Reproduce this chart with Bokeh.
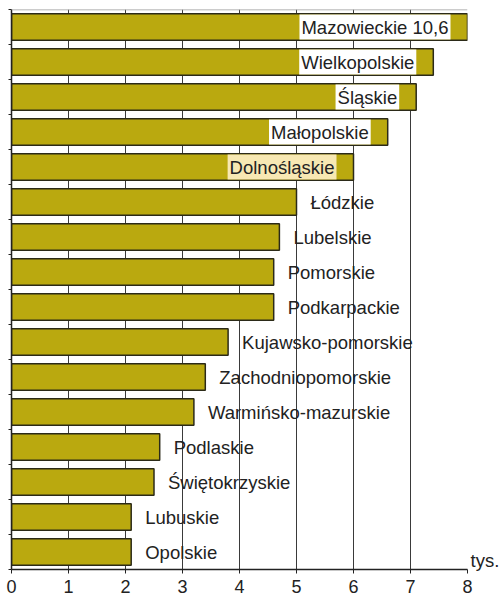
from bokeh.plotting import figure
from bokeh.models import ColumnDataSource, Range1d, FixedTicker, Span, LinearAxis
from bokeh.core.properties import value
from bokeh.embed import file_html
from bokeh.resources import INLINE

regions = ["Mazowieckie", "Wielkopolskie", "Śląskie", "Małopolskie", "Dolnośląskie",
           "Łódzkie", "Lubelskie", "Pomorskie", "Podkarpackie", "Kujawsko-pomorskie",
           "Zachodniopomorskie", "Warmińsko-mazurskie", "Podlaskie", "Świętokrzyskie",
           "Lubuskie", "Opolskie"]
values = [10.6, 7.4, 7.1, 6.6, 6.0, 5.0, 4.7, 4.6, 4.6, 3.8, 3.4, 3.2, 2.6, 2.5, 2.1, 2.1]
x_ticks = [0, 1, 2, 3, 4, 5, 6, 7, 8]
unit_label = "tys."
highlight = "Dolnośląskie"

XMAX = 8
n = len(regions)
ys = [n - 0.5 - i for i in range(n)]
FONT = value("Liberation Sans")
INK = "#222222"

p = figure(width=502, height=598, output_backend="svg", toolbar_location=None,
           x_range=Range1d(0, XMAX), y_range=Range1d(0, n),
           min_border_left=11, min_border_right=0, min_border_top=9, min_border_bottom=29)
p.outline_line_color = None
p.background_fill_color = "white"

# grid
p.ygrid.grid_line_color = None
p.xgrid.ticker = FixedTicker(ticks=x_ticks)
p.xgrid.grid_line_color = "#3a3a3a"
p.xgrid.grid_line_width = 1

# x axis
p.xaxis.ticker = FixedTicker(ticks=x_ticks)
p.xaxis.axis_line_color = INK
p.xaxis.axis_line_width = 1.5
p.xaxis.major_tick_line_color = INK
p.xaxis.major_tick_out = 4
p.xaxis.major_tick_in = 0
p.xaxis.minor_tick_line_color = None
p.xaxis.major_label_text_font = "Liberation Sans"
p.xaxis.major_label_text_font_size = "18px"
p.xaxis.major_label_text_color = INK
p.xaxis.major_label_standoff = 6

# y axis (ticks at band boundaries, no labels)
bounds = list(range(0, n + 1))
p.yaxis.ticker = FixedTicker(ticks=bounds)
p.yaxis.major_label_overrides = {b: "" for b in bounds}
p.yaxis.axis_line_color = INK
p.yaxis.axis_line_width = 1.5
p.yaxis.major_tick_line_color = INK
p.yaxis.major_tick_out = 3
p.yaxis.major_tick_in = 0
p.yaxis.minor_tick_line_color = None
p.yaxis.major_label_standoff = 0

# unit label on the right, next to the last band
unit_pos = ys[-1] - 0.25
right_ax = LinearAxis(ticker=FixedTicker(ticks=[unit_pos]),
                      major_label_overrides={unit_pos: unit_label})
right_ax.axis_line_color = None
right_ax.major_tick_line_color = None
right_ax.minor_tick_line_color = None
right_ax.major_tick_out = 0
right_ax.major_tick_in = 0
right_ax.major_label_standoff = 3
right_ax.major_label_text_font = "Liberation Sans"
right_ax.major_label_text_font_size = "18.5px"
right_ax.major_label_text_color = INK
p.add_layout(right_ax, "right")

p.add_layout(Span(location=n, dimension="width", line_color="#999999", line_width=1.5))

src = ColumnDataSource(dict(y=ys, v=values, name=regions))
p.hbar(y="y", left=0, right="v", height=0.76, source=src,
       fill_color="#BAA90F", line_color="#2b2a18", line_width=1.5)

# labels
inside = [v >= 6 for v in values]
lx = [min(v, XMAX) for v in values]
src_in = ColumnDataSource(dict(
    x=[lx[i] for i in range(n) if inside[i]],
    y=[ys[i] for i in range(n) if inside[i]],
    name=[regions[i] + (" 10,6" if values[i] > XMAX else "") for i in range(n) if inside[i]],
    bg=["#F7E8B3" if regions[i] == highlight else "white" for i in range(n) if inside[i]],
))
src_out = ColumnDataSource(dict(
    x=[lx[i] for i in range(n) if not inside[i]],
    y=[ys[i] for i in range(n) if not inside[i]],
    name=[regions[i] for i in range(n) if not inside[i]],
))
p.text(x="x", y="y", text="name", source=src_in, text_align="right", text_baseline="middle",
       x_offset=-17, text_font=FONT, text_font_size="18.5px", text_color=INK,
       background_fill_color="bg", padding=2)
p.text(x="x", y="y", text="name", source=src_out, text_align="left", text_baseline="middle",
       x_offset=14, text_font=FONT, text_font_size="18.5px", text_color=INK)

open("out.html", "w").write(file_html(p, INLINE))
